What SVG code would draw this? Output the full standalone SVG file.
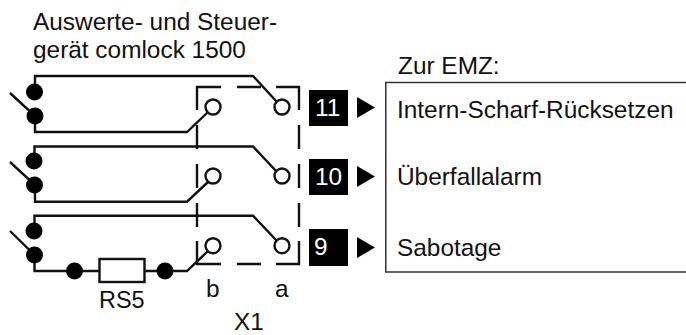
<svg xmlns="http://www.w3.org/2000/svg" width="686" height="335" viewBox="0 0 686 335">
<style>
text{font-family:"Liberation Sans",Arial,sans-serif;font-size:24.4px;fill:#111}
.w{fill:none;stroke:#111;stroke-width:2.4}
.d{fill:#000}
.o{fill:#fff;stroke:#111;stroke-width:2.4}
.b{fill:#000}
text.t{fill:#fff}
</style>
<rect width="686" height="335" fill="#fff"/>
<g id="connectors">
<path class="w" d="M35 92V76H253L277 102"/>
<path class="w" d="M10 93L35 116V132H187L208 112"/>
<path class="w" d="M34.500 161V146.500H253L277 172"/>
<path class="w" d="M10 162L35 185V201.700H187L208 182"/>
<path class="w" d="M34.500 231V215.700H253L277 241"/>
<path class="w" d="M10 231L34.500 255V271H187L208 251"/>
</g>
<g id="X1">
<path class="w" d="M197 110V87H221M237 87H261M276 87H299V110M299 125V149M299 164V188M299 203V227M299 241V264H276M261 264H237M221 264H197V241M197 227V203M197 188V164M197 149V125"/>
</g>
<g id="contacts">
<circle class="d" cx="34.500" cy="92" r="8.500"/><circle class="d" cx="35" cy="116" r="8.500"/>
<circle class="d" cx="34" cy="161" r="8.500"/><circle class="d" cx="34.500" cy="185" r="8.500"/>
<circle class="d" cx="34" cy="231" r="8.500"/><circle class="d" cx="34.500" cy="255" r="8.500"/>
<circle class="o" cx="213" cy="107" r="7.500"/><circle class="o" cx="282" cy="107" r="7.500"/>
<circle class="o" cx="213" cy="176" r="7.500"/><circle class="o" cx="282" cy="176" r="7.500"/>
<circle class="o" cx="213" cy="245.700" r="7.500"/><circle class="o" cx="282" cy="245.700" r="7.500"/>
</g>
<g id="RS5">
<circle class="d" cx="74.500" cy="271" r="8.500"/>
<rect class="o" x="99.500" y="259" width="45" height="23"/>
<circle class="d" cx="165" cy="271" r="8.500"/>
<text x="99" y="308" style="font-size:23.4px">RS5</text>
</g>
<g id="term11"><rect class="b" x="309" y="90" width="39" height="36"/><text class="t" x="315" y="116">11</text><path class="d" d="M357 97L375 107.500L357 118Z"/></g>
<g id="term10"><rect class="b" x="309" y="159" width="39" height="36"/><text class="t" x="315" y="185">10</text><path class="d" d="M357 166L375 176.500L357 187Z"/></g>
<g id="term9"><rect class="b" x="309" y="229" width="39" height="37"/><text class="t" x="314" y="255">9</text><path class="d" d="M357 237L375 247.500L357 258Z"/></g>
<g id="EMZ">
<path class="w" style="stroke-width:1.500;stroke:#333" d="M686 82.500H385.800V272H686"/>
<text x="398" y="74">Zur EMZ:</text>
<text x="397" y="118">Intern-Scharf-Rücksetzen</text>
<text x="397" y="185">Überfallalarm</text>
<text x="397" y="256">Sabotage</text>
</g>
<g id="labels">
<text x="33" y="30">Auswerte- und Steuer-</text>
<text x="33" y="58">gerät comlock 1500</text>
<text x="206" y="297">b</text>
<text x="275" y="297">a</text>
<text x="234" y="330">X1</text>
</g>
</svg>
